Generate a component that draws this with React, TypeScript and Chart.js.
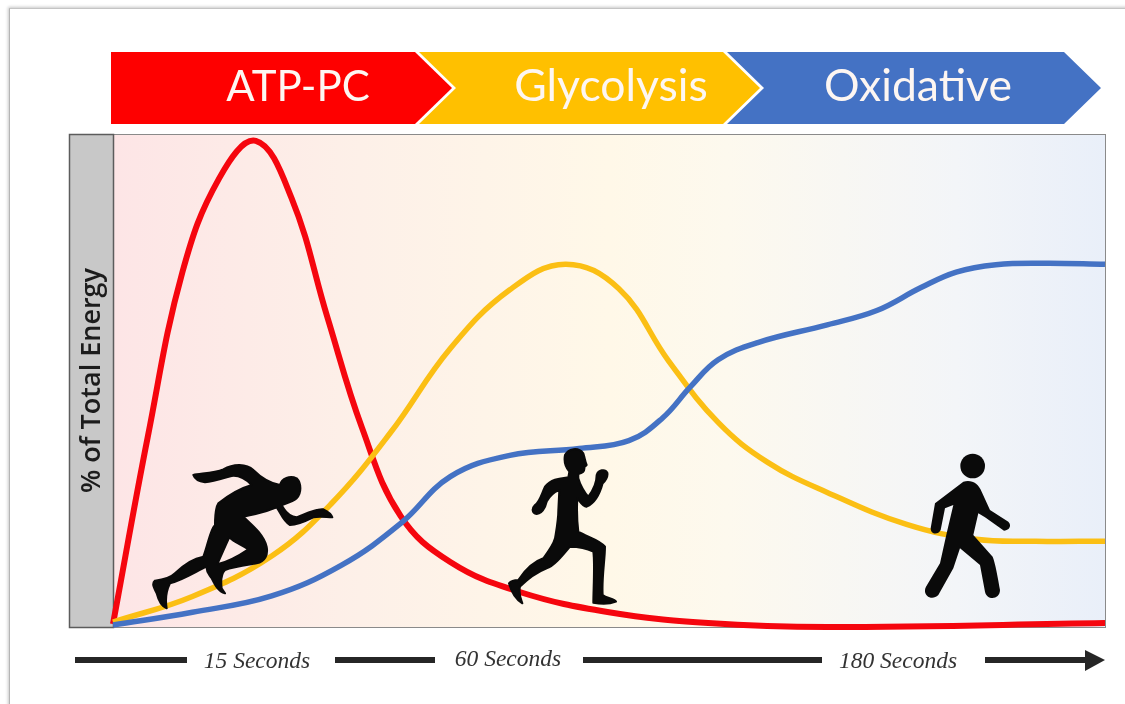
import React, { useEffect, useRef } from "react";
import { Chart, registerables } from "chart.js";

Chart.register(...registerables);

const phaseNames = ["ATP-PC", "Glycolysis", "Oxidative"];
const durationLabels = ["15 Seconds", "60 Seconds", "180 Seconds"];
const yAxisTitle = "% of Total Energy";

// x: share of the time axis (%), y: % of total energy
const atpX = [0, 3.5, 7, 10.7, 14.4, 18, 21.6, 25.1, 29, 34, 41, 50, 60, 72, 100];
const atpY = [0.6, 38.5, 72, 91, 98.6, 87, 62.9, 40.4, 22.5, 13.2, 7.1, 3, 0.8, 0, 0.8];
const glyX = [0, 8, 16, 22, 28, 34, 40, 45.6, 51, 56, 61, 66, 72, 80, 87, 93, 100];
const glyY = [1, 6.2, 14.4, 25, 39.5, 56.5, 68.4, 73.6, 68.6, 54, 41.5, 33.4, 27.3, 20.8, 17.8, 17.4, 17.4];
const oxiX = [0, 8, 16, 23, 29, 34, 40, 47, 52, 55.4, 58.2, 61, 65, 72, 77, 81.4, 85, 89, 94, 100];
const oxiY = [0.4, 3, 6.3, 12.5, 21, 30.5, 34.8, 36.2, 37.8, 42.4, 48.7, 54.2, 57.7, 61.3, 64.2, 68.8, 72, 73.5, 73.8, 73.6];

const toPoints = (xs: number[], ys: number[]) => xs.map((x, i) => ({ x, y: ys[i] }));

const backdrop = {
  id: "backdrop",
  beforeDraw(chart: any) {
    const { ctx, chartArea: a } = chart;
    ctx.save();
    const g = ctx.createLinearGradient(a.left, 0, a.right, 0);
    g.addColorStop(0, "#fde5e6");
    g.addColorStop(0.25, "#fdf0e8");
    g.addColorStop(0.5, "#fff8e8");
    g.addColorStop(0.62, "#fdf9ee");
    g.addColorStop(0.85, "#f3f5f8");
    g.addColorStop(1, "#e9eff9");
    ctx.fillStyle = g;
    ctx.fillRect(a.left, a.top, a.right - a.left, a.bottom - a.top);
    ctx.strokeStyle = "#8a8a8a";
    ctx.lineWidth = 1;
    ctx.strokeRect(a.left + 0.5, a.top + 0.5, a.right - a.left, a.bottom - a.top);
    ctx.fillStyle = "#c8c8c8";
    ctx.fillRect(69, a.top, a.left - 69, a.bottom - a.top);
    ctx.strokeStyle = "#5c5c5c";
    ctx.lineWidth = 1.5;
    ctx.strokeRect(69.5, a.top + 0.5, a.left - 69, a.bottom - a.top);
    ctx.restore();
  },
};

function Sprinter() {
  return (
    <g transform="translate(100 430) scale(0.3333)" fill="#0a0a0a" stroke="#0a0a0a" strokeWidth={6} strokeLinejoin="round">
      <path
        fillRule="evenodd"
        d="M280,135 C300,130 340,130 370,118 C400,100 440,100 460,120 C480,140 510,160 540,165 C545,145 570,135 590,145 C605,160 605,190 590,205 C580,215 560,220 545,225 C555,245 570,260 590,262 C620,250 650,235 670,238 C685,245 695,255 697,262 C680,262 660,258 640,262 C620,272 590,285 570,285 C550,275 540,245 530,232 C500,245 460,255 430,260 C450,280 490,310 500,350 C505,375 495,395 470,400 C440,405 400,410 375,420 C365,430 362,450 365,475 L375,490 C355,485 345,465 335,445 C325,430 318,425 320,410 C295,420 250,450 210,460 C200,480 195,505 200,535 C185,530 175,510 170,490 C160,470 155,460 165,452 C185,450 210,445 225,430 C250,405 280,385 310,380 C325,340 330,300 345,285 C345,260 345,235 355,220 C380,200 420,175 455,165 C440,150 420,135 395,138 C370,145 340,155 315,157 C300,155 285,150 280,135 Z M388,322 C400,335 425,345 445,358 C420,375 385,395 352,403 C362,380 375,350 388,322 Z"
      />
    </g>
  );
}

function Runner() {
  return (
    <g transform="translate(490 430) scale(0.3333)" fill="#0a0a0a" stroke="#0a0a0a" strokeWidth={6} strokeLinejoin="round">
      <path d="M225,75 C235,55 265,50 280,70 C285,85 285,95 290,105 L283,112 C285,125 275,130 265,132 L265,145 C270,165 285,190 295,200 C310,180 320,160 320,135 C325,120 345,115 352,128 C355,140 345,155 338,160 C330,190 315,220 290,230 C280,232 270,215 262,205 C260,240 262,280 265,305 C290,320 330,330 345,350 C345,390 335,440 338,495 C350,505 375,505 378,515 C360,522 330,522 310,518 C310,480 315,400 310,365 C290,355 260,350 240,350 C215,380 190,410 170,415 C145,425 115,445 90,470 C85,490 92,505 97,520 C80,510 65,490 57,460 C65,450 75,450 85,450 C105,420 130,395 160,385 C175,365 190,345 195,325 C200,295 205,270 205,240 L208,180 C195,185 180,195 170,215 C165,235 158,250 140,252 C125,250 125,235 135,225 C150,215 155,190 165,170 C185,145 215,145 235,142 L238,125 C225,110 222,90 225,75 Z" />
    </g>
  );
}

function Walker() {
  return (
    <g transform="translate(900 440) scale(0.3333)" fill="#0a0a0a">
      <circle cx={218} cy={78} r={37} />
      <path d="M190,125 C215,118 235,130 245,155 L270,210 L325,245 C335,255 330,270 312,272 L255,232 L235,220 L220,285 L278,350 C285,365 295,420 300,450 C300,480 260,482 255,455 L240,375 L180,325 L160,385 L115,465 C95,485 65,465 78,440 L120,370 L140,280 L160,195 L135,205 L122,270 C115,285 92,285 92,265 L105,190 Z" />
    </g>
  );
}

export default function App() {
  const ref = useRef<HTMLCanvasElement>(null);

  useEffect(() => {
    const line = (label: string, xs: number[], ys: number[], color: string, width: number) => ({
      label,
      data: toPoints(xs, ys),
      borderColor: color,
      borderWidth: width,
      pointRadius: 0,
      tension: 0.4,
      clip: false as const,
      fill: false,
    });
    const chart = new Chart(ref.current!, {
      type: "line",
      data: {
        datasets: [
          line(phaseNames[2], oxiX, oxiY, "#4472c4", 5.5),
          line(phaseNames[1], glyX, glyY, "#fbbf14", 5.5),
          line(phaseNames[0], atpX, atpY, "#f5060e", 6),
        ],
      },
      plugins: [backdrop],
      options: {
        animation: false,
        responsive: false,
        parsing: false,
        layout: { padding: { left: 0, right: 20, top: 134, bottom: 77 } },
        plugins: { legend: { display: false }, tooltip: { enabled: false } },
        scales: {
          x: { type: "linear", display: false, min: 0, max: 100 },
          y: {
            type: "linear",
            min: 0,
            max: 100,
            grid: { display: false },
            border: { display: false },
            ticks: { display: false },
            afterFit: (s: any) => {
              s.width = 113;
            },
            title: {
              display: true,
              text: yAxisTitle,
              color: "#1c1c1c",
              font: { family: "'Open Sans'", size: 27, weight: "600" },
              padding: { top: 76, bottom: 0 },
            },
          },
        },
      },
    } as any);
    return () => chart.destroy();
  }, []);

  const arrowPolys = [
    { pts: "111,52 415,52 452,88 415,124 111,124", fill: "#fe0000", cx: 298, size: 42 },
    { pts: "419,52 723,52 760,88 723,124 419,124 456,88", fill: "#ffc000", cx: 611, size: 44.5 },
    { pts: "727,52 1064,52 1101,88 1064,124 727,124 764,88", fill: "#4472c4", cx: 918, size: 44.5 },
  ];
  const dashes = [
    [75, 187],
    [335, 435],
    [583, 822],
    [985, 1088],
  ];
  const durationCx = [257, 508, 898];
  const durationCy = [661, 659, 661];

  return (
    <div style={{ position: "absolute", left: 0, top: 0, width: 1125, height: 704, overflow: "hidden", background: "#fff" }}>
      <div
        style={{
          position: "absolute",
          left: 9,
          top: 8,
          width: 1140,
          height: 720,
          borderLeft: "1px solid #b5b5b5",
          borderTop: "1px solid #c4c4c4",
          boxShadow: "-1px -1px 3px rgba(0,0,0,0.22)",
          background: "#fff",
        }}
      />
      <canvas ref={ref} width={1125} height={704} style={{ position: "absolute", left: 0, top: 0, display: "block" }} />
      <svg width={1125} height={704} style={{ position: "absolute", left: 0, top: 0 }}>
        {arrowPolys.map((a, i) => (
          <g key={i}>
            <polygon points={a.pts} fill={a.fill} />
            <text x={a.cx} y={101} textAnchor="middle" fill="#fdf6f2" fontFamily="'Lato'" fontSize={a.size}>
              {phaseNames[i]}
            </text>
          </g>
        ))}
        {dashes.map((d, i) => (
          <rect key={i} x={d[0]} y={657} width={d[1] - d[0]} height={6} fill="#262626" />
        ))}
        <polygon points="1085,650 1105,660 1085,671" fill="#262626" />
        {durationLabels.map((t, i) => (
          <text
            key={i}
            x={durationCx[i]}
            y={durationCy[i] + 7}
            textAnchor="middle"
            fill="#333"
            fontFamily="'Liberation Serif'"
            fontStyle="italic"
            fontSize={23.5}
          >
            {t}
          </text>
        ))}
        <Sprinter />
        <Runner />
        <Walker />
      </svg>
    </div>
  );
}
